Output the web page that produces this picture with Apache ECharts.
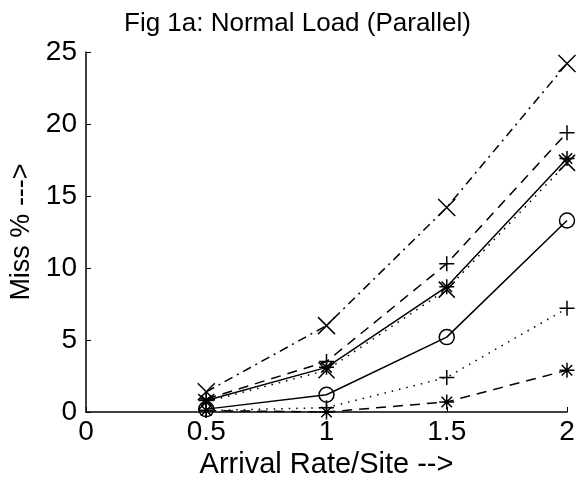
<!DOCTYPE html>
<html>
<head>
<meta charset="utf-8">
<script src="https://cdn.jsdelivr.net/npm/echarts@6/dist/echarts.min.js"></script>
<style>
  html, body { margin: 0; padding: 0; background: #fff; }
  #chart { width: 576px; height: 480px; }
</style>
</head>
<body>
<div id="chart"></div>
<script>
// Arrival rate per site (x) and miss percentage for each curve
const rates = [0.5, 1, 1.5, 2]
const xDashDot = [1.4, 6.0, 14.2, 24.2]
const plusDashed = [0.9, 3.5, 10.3, 19.4]
const starSolid = [0.8, 3.1, 8.7, 17.6]
const xDotted = [0.7, 2.9, 8.5, 17.3]
const circleSolid = [0.2, 1.2, 5.2, 13.3]
const plusDotted = [0.1, 0.3, 2.4, 7.2]
const starDashed = [0.1, 0.0, 0.7, 2.9]

const xTicks = ['0', '0.5', '1', '1.5', '2']
const yTicks = ['0', '5', '10', '15', '20', '25']

const FONT = 'Liberation Sans'
const CROSS = 'path://M0 0L10 10M10 0L0 10'
const PLUS = 'path://M5 0L5 10M0 5L10 5'
const STAR = 'path://M5 0L5 10M0 5L10 5M1.5 1.5L8.5 8.5M8.5 1.5L1.5 8.5'

function pts(ys) { return rates.map((x, i) => [x, ys[i]]) }

function line(ys, dash, symbol, size) {
  return {
    type: 'line',
    data: pts(ys),
    symbol: symbol,
    symbolSize: size,
    showAllSymbol: true,
    lineStyle: { color: '#000', width: 1.5, type: dash },
    itemStyle: { color: 'none', borderColor: '#000', borderWidth: 1.5 },
    emphasis: { disabled: true },
    z: 2
  }
}

const chart = echarts.init(document.getElementById('chart'), null, { renderer: 'canvas' })
chart.setOption({
  animation: false,
  backgroundColor: '#fff',
  title: {
    text: 'Fig 1a: Normal Load (Parallel)',
    left: 119, top: 6,
    textStyle: { fontFamily: FONT, fontSize: 26, fontWeight: 'normal', color: '#000' }
  },
  grid: { left: 86, right: 9, top: 52, bottom: 68, containLabel: false, outerBoundsMode: 'none' },
  xAxis: {
    type: 'value', min: 0, max: 2, interval: 0.5,
    name: 'Arrival Rate/Site -->', nameLocation: 'middle', nameGap: 37,
    nameTextStyle: { fontFamily: FONT, fontSize: 29, color: '#000' },
    axisLine: { lineStyle: { color: '#000', width: 1.5 } },
    axisTick: { inside: true, length: 5, lineStyle: { color: '#000' } },
    axisLabel: { fontFamily: FONT, fontSize: 28, color: '#000', margin: 6,
      formatter: (v) => xTicks[Math.round(v / 0.5)] },
    splitLine: { show: false }
  },
  yAxis: {
    type: 'value', min: 0, max: 25, interval: 5,
    name: 'Miss % --->', nameLocation: 'middle', nameGap: 50,
    nameTextStyle: { fontFamily: FONT, fontSize: 27, color: '#000' },
    axisLine: { show: true, lineStyle: { color: '#000', width: 1.5 } },
    axisTick: { show: true, inside: true, length: 5, lineStyle: { color: '#000' } },
    axisLabel: { fontFamily: FONT, fontSize: 28, color: '#000', margin: 9,
      formatter: (v) => yTicks[Math.round(v / 5)] },
    splitLine: { show: false }
  },
  series: [
    line(xDashDot, [9, 5, 2, 5], CROSS, 17),
    line(plusDashed, [10, 7], PLUS, 15),
    line(starSolid, 'solid', STAR, 15),
    line(xDotted, [1.5, 6], CROSS, 16),
    line(circleSolid, 'solid', 'circle', 15),
    line(plusDotted, [1.5, 6], PLUS, 15),
    line(starDashed, [10, 7], STAR, 15)
  ]
})
</script>
</body>
</html>
